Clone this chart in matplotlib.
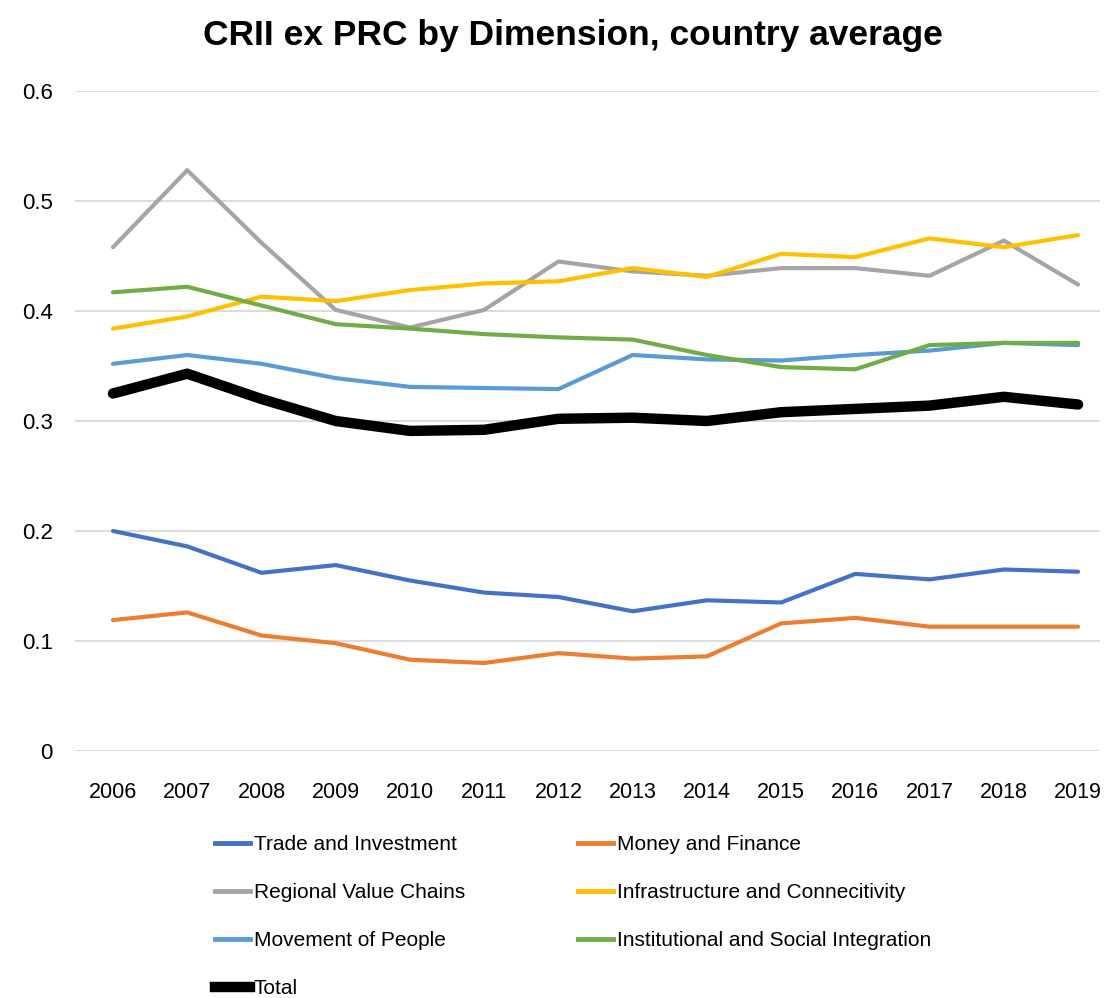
import matplotlib
matplotlib.use("Agg")
import matplotlib.pyplot as plt
from matplotlib.lines import Line2D

plt.rcParams['font.family'] = ['Liberation Sans', 'DejaVu Sans']

years = [2006, 2007, 2008, 2009, 2010, 2011, 2012, 2013, 2014, 2015, 2016, 2017, 2018, 2019]
trade = [0.200, 0.186, 0.162, 0.169, 0.155, 0.144, 0.140, 0.127, 0.137, 0.135, 0.161, 0.156, 0.165, 0.163]
money = [0.119, 0.126, 0.105, 0.098, 0.083, 0.080, 0.089, 0.084, 0.086, 0.116, 0.121, 0.113, 0.113, 0.113]
regional = [0.458, 0.528, 0.462, 0.401, 0.385, 0.401, 0.445, 0.436, 0.432, 0.439, 0.439, 0.432, 0.464, 0.424]
infra = [0.384, 0.395, 0.413, 0.409, 0.419, 0.425, 0.427, 0.439, 0.431, 0.452, 0.449, 0.466, 0.458, 0.469]
movement = [0.352, 0.360, 0.352, 0.339, 0.331, 0.330, 0.329, 0.360, 0.356, 0.355, 0.360, 0.364, 0.371, 0.369]
institutional = [0.417, 0.422, 0.405, 0.388, 0.384, 0.379, 0.376, 0.374, 0.360, 0.349, 0.347, 0.369, 0.371, 0.371]
total = [0.325, 0.343, 0.320, 0.300, 0.291, 0.292, 0.302, 0.303, 0.300, 0.308, 0.311, 0.314, 0.322, 0.315]

names = ["Trade and Investment", "Money and Finance", "Regional Value Chains",
         "Infrastructure and Connecitivity", "Movement of People",
         "Institutional and Social Integration", "Total"]
series = [trade, money, regional, infra, movement, institutional, total]
colors = ["#4472C4", "#ED7D31", "#A5A5A5", "#FFC000", "#5B9BD5", "#70AD47", "#000000"]
widths = [3.0, 3.0, 3.0, 3.0, 3.0, 3.0, 7.5]
yticks = [0, 0.1, 0.2, 0.3, 0.4, 0.5, 0.6]
ytick_labels = ["0", "0.1", "0.2", "0.3", "0.4", "0.5", "0.6"]

fig = plt.figure(figsize=(11.04, 9.98), dpi=100)
ax = fig.add_axes([75/1104, (998-751)/998, 1025/1104, 660/998])

for name, vals, c, w in zip(names, series, colors, widths):
    ax.plot(years, vals, color=c, linewidth=w, solid_capstyle='round',
            solid_joinstyle='round', label=name, zorder=3)

ax.set_ylim(0, 0.6)
ax.set_xlim(2006 - 0.512, 2019 + 0.296)
ax.set_yticks(yticks)
ax.set_yticklabels(ytick_labels, fontsize=16)
ax.set_xticks(years)
ax.set_xticklabels([str(y) for y in years], fontsize=15.5)
ax.tick_params(axis='both', length=0)
ax.tick_params(axis='y', pad=16)
ax.tick_params(axis='x', pad=22)
ax.grid(axis='y', color='#d9d9d9', linewidth=1.3, zorder=0)
for s in ax.spines.values():
    s.set_visible(False)

fig.text(0.519, 1 - 36/998, "CRII ex PRC by Dimension, country average", ha='center', va='center',
         fontsize=25.5, fontweight='bold')

col1 = [0, 2, 4, 6]
col2 = [1, 3, 5]
common = dict(loc='upper left', frameon=False, fontsize=15, handlelength=1.7,
              handletextpad=0.15, labelspacing=1.4, borderpad=0, borderaxespad=0)
for idx, x0 in ((col1, 215), (col2, 578)):
    hs = [Line2D([0], [0], color=colors[i], linewidth=(3.5 if i != 6 else 7.5)) for i in idx]
    fig.legend(hs, [names[i] for i in idx], bbox_to_anchor=(x0/1104, 1 - 835/998), **common)

fig.savefig("out.png", dpi=100)
